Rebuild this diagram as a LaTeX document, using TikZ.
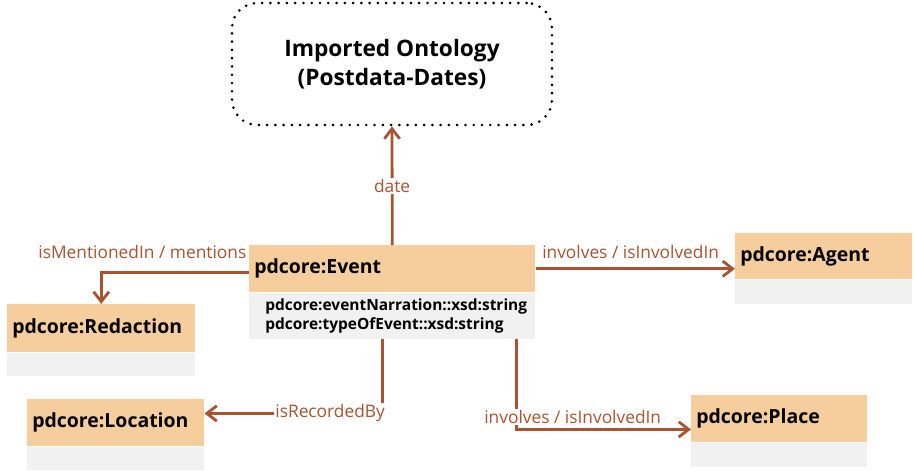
\documentclass[tikz,border=0pt]{standalone}
\usepackage{fontspec}
\setmainfont{Open Sans}
\usetikzlibrary{arrows.meta}
\usetikzlibrary{positioning}
\definecolor{headfill}{RGB}{246,206,158}
\definecolor{bodyfill}{RGB}{241,241,241}
\definecolor{relcol}{RGB}{168,84,48}
\tikzset{classhead/.style = {fill=headfill, anchor=north west, inner xsep=3.75pt, inner ysep=0,
                             text width=#1, align=left, font=\fontsize{14.6}{16}\selectfont\bfseries}}
\tikzset{classbody/.style = {fill=bodyfill, inner sep=0}}
\tikzset{rel/.style = {draw=relcol, line width=2.1pt, -{Straight Barb[length=7.5pt,width=11.5pt]}}}
\tikzset{rellabel/.style = {text=relcol, inner sep=1pt, font=\fontsize{13}{15}\selectfont}}
\begin{document}
\begin{tikzpicture}[x=0.75pt, y=-0.75pt]
          \useasboundingbox (0,0) rectangle (914,471);
          % imported ontology
          \node (onto) [draw, rounded corners=19pt, dash pattern=on 0pt off 6.2pt, line cap=round,
                        line width=2.2pt, minimum width=240pt, minimum height=91.5pt, align=center,
                        font=\fontsize{17}{22}\selectfont\bfseries] at (392,64)
                {Imported Ontology\\(Postdata-Dates)};
          % classes
          \node (event) [classhead=207pt, minimum height=35.25pt] at (249,245) {pdcore:Event};
          \node (eventbody) [classbody, below right=0pt and 0pt of event.south west, inner xsep=12pt,
                             text width=190.5pt, minimum height=34.5pt, align=left,
                             font=\fontsize{11.6}{14.25}\selectfont\bfseries]
                {pdcore:eventNarration::xsd:string\\pdcore:typeOfEvent::xsd:string};
          \node (redaction) [classhead=133.5pt, minimum height=36pt] at (7,304) {pdcore:Redaction};
          \node (redactionbody) [classbody, below right=0pt and 0pt of redaction.south west,
                                 minimum width=141pt, minimum height=17.25pt] {};
          \node (agent) [classhead=125.25pt, minimum height=34.5pt] at (735,233) {pdcore:Agent};
          \node (agentbody) [classbody, below right=0pt and 0pt of agent.south west,
                             minimum width=132.75pt, minimum height=18pt] {};
          \node (location) [classhead=125.25pt, minimum height=35.25pt] at (27,399) {pdcore:Location};
          \node (locationbody) [classbody, below right=0pt and 0pt of location.south west,
                                minimum width=132.75pt, minimum height=17.25pt] {};
          \node (place) [classhead=124.5pt, minimum height=35.25pt] at (691,395) {pdcore:Place};
          \node (placebody) [classbody, below right=0pt and 0pt of place.south west,
                             minimum width=132pt, minimum height=18pt] {};
          % relations
          \draw [rel] (event.north) -- (onto.south)
                node (date) [rellabel, midway, fill=white] {date};
          \draw [rel] ([yshift=-3pt]event.west) -| (redaction.north)
                node (mentions) [rellabel, pos=0, anchor=base east, yshift=11pt] {isMentionedIn / mentions};
          \draw [rel] (event.east) -- (event.east -| agent.west)
                node (involvesagent) [rellabel, pos=0, anchor=base west, xshift=3pt, yshift=7.5pt]
                {involves / isInvolvedIn};
          \draw [rel] ([xshift=-7.5pt]eventbody.south) |- ([yshift=7pt]location.east)
                node (recorded) [rellabel, pos=0.5, anchor=east, xshift=4pt, fill=white] {isRecordedBy};
          \draw [rel] ([xshift=93pt]eventbody.south) |- ([yshift=-8pt]place.west)
                node (involvesplace) [rellabel, pos=0.5, anchor=base west, xshift=-26pt, yshift=4.5pt,
                                      fill=white] {involves / isInvolvedIn};
        \end{tikzpicture}
\end{document}
